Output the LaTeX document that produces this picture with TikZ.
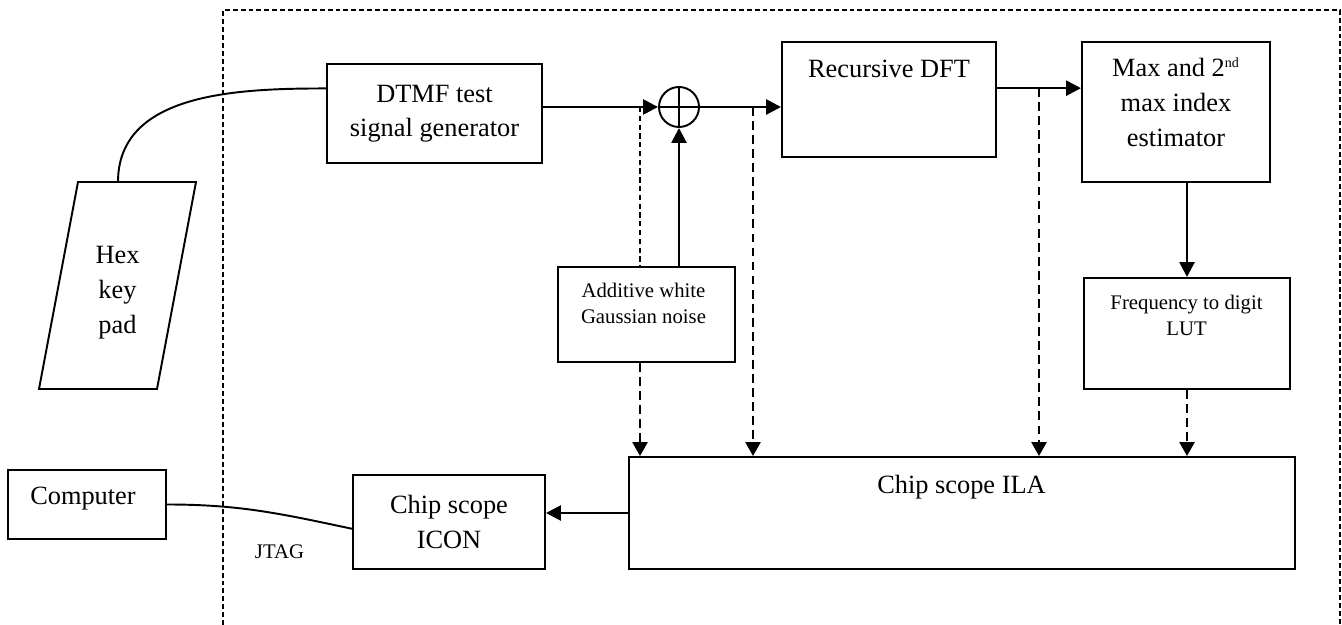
\documentclass[tikz,border=0pt]{standalone}
\usepackage{fontspec}
\setmainfont{Liberation Serif}
\usetikzlibrary{positioning, shapes.geometric, arrows.meta}

\begin{document}
\begin{tikzpicture}[box/.style={draw, line width=1.1pt, inner sep=0pt, align=center, font=\fontsize{15}{19.5}\selectfont},
  txt/.style={align=center, inner sep=0pt, font=\fontsize{15}{20}\selectfont},
  small/.style={align=center, inner sep=0pt, font=\fontsize{11.8}{14.8}\selectfont},
  flow/.style={line width=1.5pt, -{Triangle[length=0.3cm, width=0.3cm]}},
  tap/.style={line width=1.5pt, dash pattern=on 5pt off 3pt, -{Triangle[length=0.28cm, width=0.3cm]}},
  wire/.style={line width=1.1pt}]
\useasboundingbox (0,0) rectangle (26.84,12.5);
\draw[line width=0.6pt, dash pattern=on 2.8pt off 1.7pt] (4.46,0) -- (4.46,12.3) -- (26.8,12.3) -- (26.8,0);

\draw[wire] (0.78,4.72) -- (3.14,4.72) -- (3.92,8.86) -- (1.56,8.86) -- cycle;
\coordinate (padtop) at (2.36,8.86);
\node[txt] (keypad) at (2.35,6.64) {Hex\\key\\pad};

\node[box, minimum width=4.3cm, minimum height=1.98cm] (dtmf) at (8.69,10.23) {DTMF test\\signal generator};
\node[draw, circle, line width=1.1pt, minimum size=0.8cm, inner sep=0pt] (sum) at (13.58,10.36) {};
\node[box, minimum width=4.28cm, minimum height=2.3cm] (dft) at (17.78,10.51) {};
\node[txt] (dfttxt) at (17.78,11.12) {Recursive DFT};
\node[box, minimum width=3.76cm, minimum height=2.8cm] (max) at (23.52,10.26) {};
\node[txt] (maxtxt) at (23.52,10.45) {Max and 2\textsuperscript{\footnotesize nd}\\max index\\estimator};
\node[box, fill=white, minimum width=3.54cm, minimum height=1.9cm] (awgn) at (12.93,6.21) {};
\node[small] (awgntxt) at (12.87,6.43) {Additive white\\Gaussian noise};
\node[box, minimum width=4.12cm, minimum height=2.22cm] (freq) at (23.74,5.83) {};
\node[small] (freqtxt) at (23.73,6.2) {Frequency to digit\\LUT};
\node[box, minimum width=13.32cm, minimum height=2.24cm] (ila) at (19.24,2.24) {};
\node[txt] (ilatxt) at (19.23,2.76) {Chip scope ILA};
\node[box, minimum width=3.84cm, minimum height=1.88cm] (icon) at (8.98,2.06) {Chip scope\\ICON};
\node[box, minimum width=3.16cm, minimum height=1.38cm] (computer) at (1.74,2.41) {};
\node[txt] (comptxt) at (1.66,2.52) {Computer};
\node[small] (jtag) at (5.59,1.46) {JTAG};

\draw[line width=1.1pt] (sum.north) -- (sum.south) (sum.west) -- (sum.east);
\draw[wire] (padtop) to[out=90, in=180] (dtmf.167);
\draw[flow] (dtmf.east |- sum.west) -- (sum.west);
\draw[flow] (sum.south |- awgn.north) -- (sum.south);
\draw[flow] (sum.east) -- (sum.east -| dft.west);
\draw[flow] (dft.6) -- (dft.6 -| max.west);
\draw[flow] (freq.north |- max.south) -- (freq.north);
\draw[flow] (ila.west) -- (ila.west -| icon.east);
\draw[wire] (computer.east) to[out=0, in=168] (icon.184);

\coordinate (tap1) at (sum.west -| 12.8,0);
\coordinate (tap2) at (sum.east -| 15.06,0);
\coordinate (tap3) at (dft.6 -| 20.78,0);
\draw[line width=0.8pt, dash pattern=on 3pt off 2pt] (tap1) -- (tap1 |- awgn.north);
\draw[tap] (tap1 |- awgn.south) -- (tap1 |- ila.north);
\draw[tap] (tap2) -- (tap2 |- ila.north);
\draw[tap] (tap3) -- (tap3 |- ila.north);
\draw[tap] (freq.south) -- (freq.south |- ila.north);
\end{tikzpicture}
\end{document}
